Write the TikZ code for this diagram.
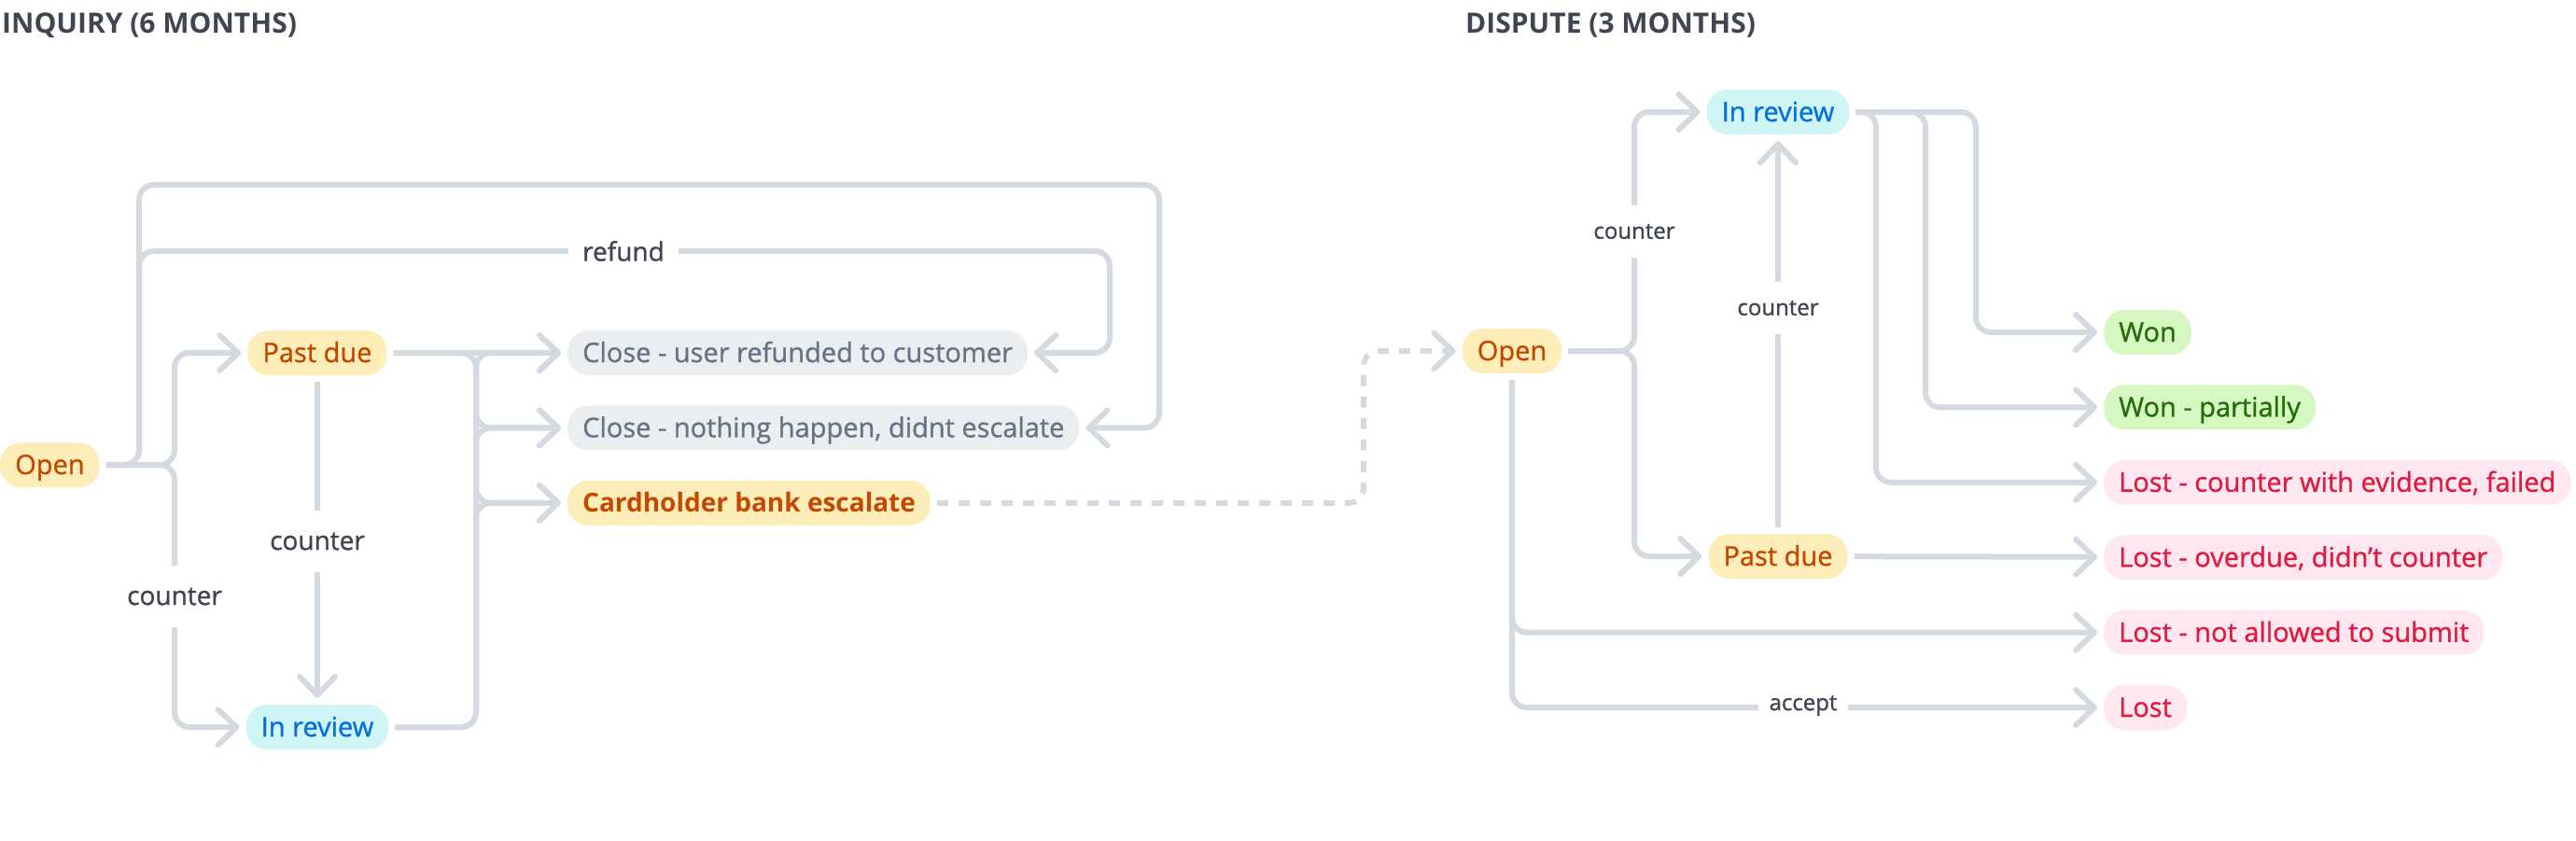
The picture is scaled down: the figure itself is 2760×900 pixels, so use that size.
\documentclass[tikz,border=0pt]{standalone}
\usepackage{fontspec}
\setmainfont{Open Sans}
\newfontfamily\medfont{Open Sans}[FakeBold=1.0]
\usepackage{tikz}
\usetikzlibrary{arrows.meta, positioning, calc}

\definecolor{linegray}{RGB}{213,217,224}
\definecolor{inkgray}{RGB}{65,69,82}
\definecolor{pendfill}{RGB}{252,237,185}
\definecolor{pendtext}{RGB}{196,72,0}
\definecolor{revfill}{RGB}{207,245,246}
\definecolor{revtext}{RGB}{5,112,222}
\definecolor{closefill}{RGB}{235,238,241}
\definecolor{closetext}{RGB}{104,115,133}
\definecolor{wonfill}{RGB}{215,247,194}
\definecolor{wontext}{RGB}{33,112,5}
\definecolor{lostfill}{RGB}{255,231,242}
\definecolor{losttext}{RGB}{223,27,65}

\begin{document}
\begin{tikzpicture}[
    x=1pt, y=-1pt,
    % Node styles
    badge/.style={rectangle, rounded corners=22pt, minimum height=48pt, inner xsep=16pt, inner ysep=0pt, text height=28pt, text depth=8pt, font=\fontsize{29pt}{34pt}\medfont},
    pending/.style={badge, fill=pendfill, text=pendtext},
    bankbox/.style={pending, font=\fontsize{28pt}{34pt}\selectfont\bfseries},
    reviewing/.style={badge, fill=revfill, text=revtext},
    closedbox/.style={badge, fill=closefill, text=closetext},
    wonbox/.style={badge, fill=wonfill, text=wontext},
    lostbox/.style={badge, fill=lostfill, text=losttext},
    hdr/.style={text=inkgray, inner sep=0pt, font=\fontsize{30pt}{36pt}\selectfont\bfseries},
    lbl/.style={fill=white, text=inkgray, inner xsep=15pt, inner ysep=24pt, font=\fontsize{28pt}{34pt}\medfont},
    lblsm/.style={lbl, inner xsep=12pt, inner ysep=20pt, font=\fontsize{24pt}{30pt}\medfont},
    conn/.style={draw=linegray, line width=6pt, rounded corners=16pt, shorten <=7pt, shorten >=7pt, -{Straight Barb[length=20pt, width=38pt, round]}},
    dashconn/.style={conn, dash pattern=on 12pt off 11pt},
]
\useasboundingbox (0,0) rectangle (2760,900);

% Titles
\node[hdr, anchor=base west] (tinq) at (2,35) {INQUIRY (6 MONTHS)};
\node[hdr, anchor=base west] (tdis) at (1570,35) {DISPUTE (3 MONTHS)};

% Inquiry states
\node[pending, anchor=west] (iopen) at (0,498) {Open};
\node[pending] (ipast) at (340,378) {Past due};
\node[reviewing] (ireview) at (340,779) {In review};
\node[closedbox, anchor=west] (iclose1) at (608,378) {Close - user refunded to customer};
\node[closedbox, below right=32pt and 0pt of iclose1.south west] (iclose2) {Close - nothing happen, didnt escalate};
\node[bankbox, below right=32pt and 0pt of iclose2.south west] (ibank) {Cardholder bank escalate};

% Dispute states
\node[pending] (dopen) at (1620,376) {Open};
\node[reviewing] (dreview) at (1905,120) {In review};
\node[pending] (dpast) at (1905,596) {Past due};
\node[wonbox, anchor=west] (won) at (2254,356) {Won};
\node[wonbox, below right=32pt and 0pt of won.south west] (wonp) {Won - partially};
\node[lostbox, below right=32pt and 0pt of wonp.south west] (lostc) {Lost - counter with evidence, failed};
\node[lostbox, below right=32pt and 0pt of lostc.south west] (losto) {Lost - overdue, didn’t counter};
\node[lostbox, below right=32pt and 0pt of losto.south west] (lostn) {Lost - not allowed to submit};
\node[lostbox, below right=32pt and 0pt of lostn.south west] (lost) {Lost};

% Routing lanes
\coordinate (itop) at (149,198);
\coordinate (itopr) at (1242,198);
\coordinate (irefund) at (149,269);
\coordinate (irefr) at (1189,269);
\coordinate (isplit) at (187,498);
\coordinate (imerge) at (510,378);
\coordinate (xbend) at (1461,376);
\coordinate (dsplit) at (1751,376);
\coordinate (dlane1) at (2010,120);
\coordinate (dlane2) at (2063,120);
\coordinate (dlane3) at (2117,120);

% Inquiry connections
\draw[conn] (iopen.east) -| (itop) -- (itopr) |- (iclose2);
\draw[conn] (iopen.east) -| (irefund) -- (irefr) |- (iclose1);
\draw[conn] (iopen.east) -- (isplit) |- (ipast);
\draw[conn] (iopen.east) -- (isplit) |- (ireview);
\draw[conn] (ipast) -- (ireview);
\draw[conn] (ipast) -- (iclose1);
\draw[conn] (ipast.east) -- (imerge) |- (iclose2);
\draw[conn] (ipast.east) -- (imerge) |- (ibank);
\draw[conn] (ireview.east) -| (imerge) -- (iclose1);
\draw[conn] (ireview.east) -| (imerge |- iclose2) -- (iclose2);
\draw[conn] (ireview.east) -| (imerge |- ibank) -- (ibank);

% Escalation into dispute
\draw[dashconn] (ibank.east) -| (xbend) -- (dopen);

% Dispute connections
\draw[conn] (dopen.east) -- (dsplit) |- (dreview);
\draw[conn] (dopen.east) -- (dsplit) |- (dpast);
\draw[conn] (dpast) -- (dreview);
\draw[conn] (dpast) -- (losto);
\draw[conn] (dopen.south) |- (lostn);
\draw[conn] (dopen.south) |- (lost);
\draw[conn] (dreview.east) -- (dlane3) |- (won);
\draw[conn] (dreview.east) -- (dlane2) |- (wonp);
\draw[conn] (dreview.east) -- (dlane1) |- (lostc);

% Labels
\node[lbl] (lrefund) at (668,269) {refund};
\node[lbl] (lcnt1) at (187,639) {counter};
\node[lbl] (lcnt2) at (340,580) {counter};
\node[lblsm] (lcnt3) at (1751,248) {counter};
\node[lblsm] (lcnt4) at (1905,330) {counter};
\node[lblsm] (laccept) at (1932,756) {accept};

\end{tikzpicture}
\end{document}
